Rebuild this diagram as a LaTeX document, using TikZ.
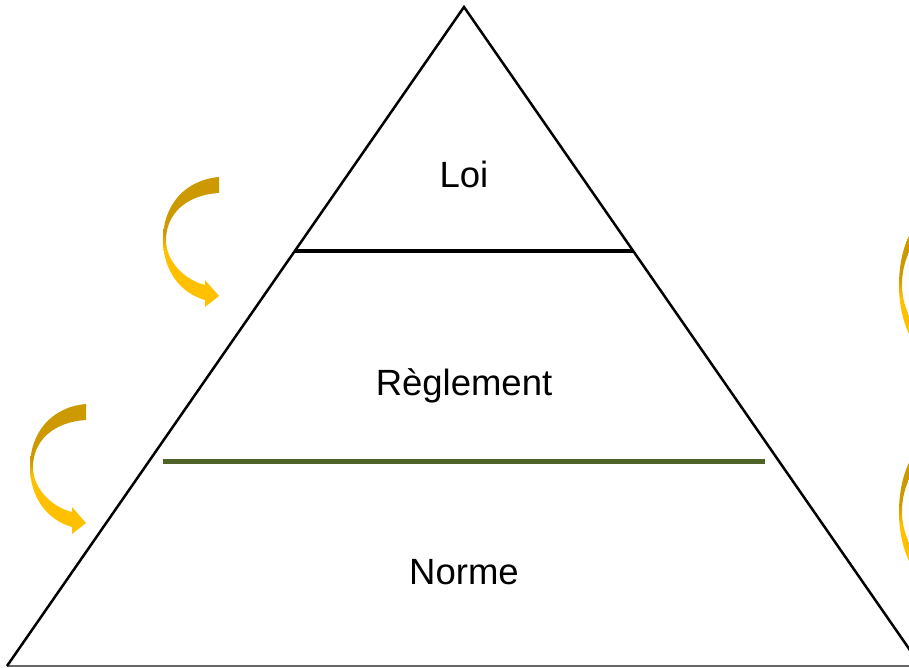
\documentclass[tikz,border=0pt]{standalone}
\usepackage{fontspec}
\setmainfont{Liberation Sans}
\usetikzlibrary{calc}
\definecolor{CC9900}{HTML}{CC9900}
\definecolor{FFC000}{HTML}{FFC000}
\definecolor{4F6228}{HTML}{4F6228}
\pgfdeclareverticalshading{ombre}{100bp}{color(0bp)=(FFC000);color(47bp)=(FFC000);color(53bp)=(CC9900);color(100bp)=(CC9900)}
\begin{document}
\begin{tikzpicture}[x=1pt,y=-1pt,font=\fontsize{36.5}{40}\selectfont]
    \newcommand{\Fleche}[2][]{\shade[shading=ombre,shift={#2},#1](56,-63) .. controls (22,-60) and (0,-35) .. (0,0) .. controls (0,30) and (17,53) .. (42,60)--(42,67)--(56,56)--(42,40)--(42,45) .. controls (22,40) and (3,22) .. (3,0) .. controls (3,-25) and (22,-45) .. (56,-47)--cycle;}
    \useasboundingbox(0,0)rectangle(909,668);
    \clip(0,0)rectangle(909,668);
    \coordinate(S)at(464,7);
    \coordinate(G)at(7,666);
    \coordinate(D)at(921,666);
    \draw[black!60,line width=2pt](G)--(D);
    \draw[line width=2.5pt,line join=miter](G)--(S)--(D);
    \draw[line width=4pt]($(S)!.37!(G)$)--($(S)!.37!(D)$);
    \draw[4F6228,line width=5pt]($(S)!.69!(G)+(14,0)$)--($(S)!.69!(D)+(-14,0)$);
    \node[anchor=base](loi)at(464,188){Loi};
    \node[anchor=base](reglement)at(464,395){Règlement};
    \node[anchor=base](norme)at(464,584){Norme};
    \Fleche{(163,240)}
    \Fleche{(30,467)}
    \Fleche[yscale=1.35]{(899,285)}
    \Fleche[yscale=1.35]{(899,512)}
\end{tikzpicture}
\end{document}
